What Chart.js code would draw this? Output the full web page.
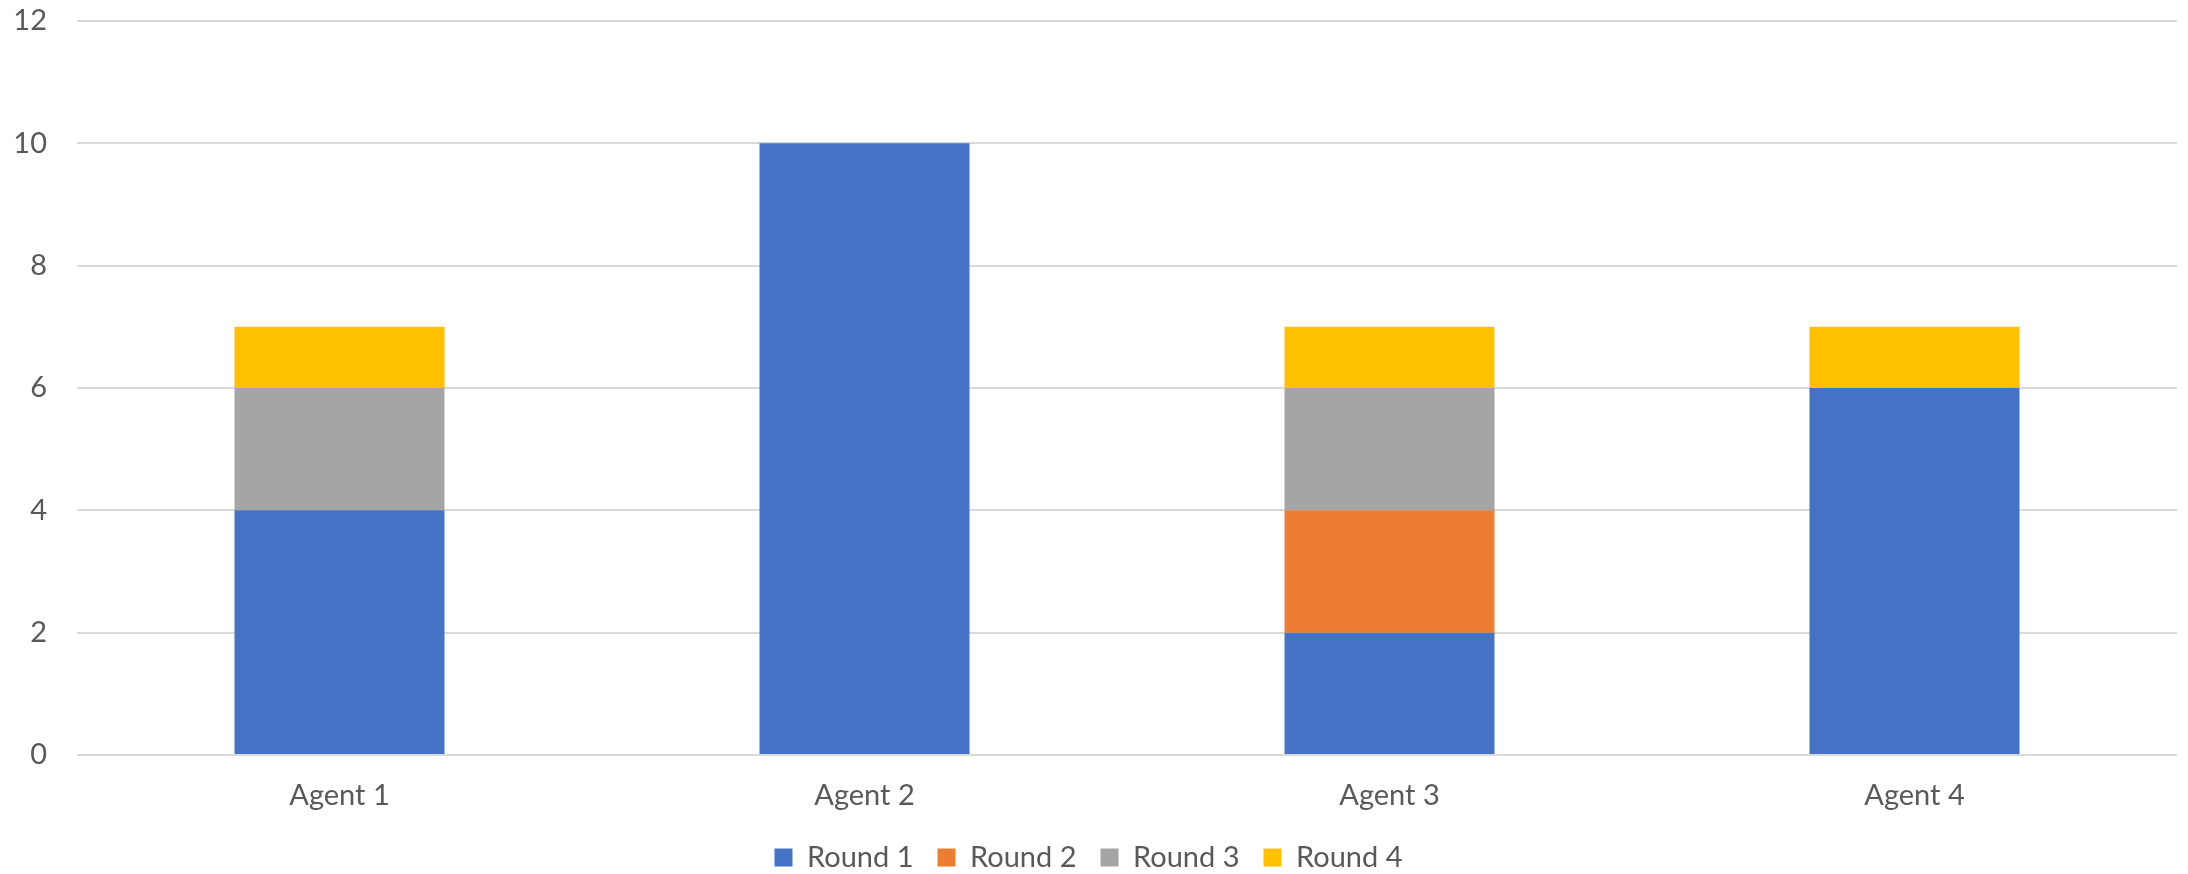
<!DOCTYPE html>
<html>
<head>
<meta charset="utf-8">
<script src="https://cdn.jsdelivr.net/npm/chart.js@4"></script>
<style>
  html, body { margin: 0; padding: 0; background: #fff; }
  #wrap { width: 2188px; height: 874px; position: relative; }
</style>
</head>
<body>
<div id="wrap"><canvas id="myChart"></canvas></div>
<script>
'use strict';

let agents = ['Agent 1', 'Agent 2', 'Agent 3', 'Agent 4'];
let round1 = [4, 10, 2, 6];
let round2 = [0, 0, 2, 0];
let round3 = [2, 0, 2, 0];
let round4 = [1, 0, 1, 1];
let yTicks = [0, 2, 4, 6, 8, 10, 12];

let textColor = '#595959';
let gridColor = '#d9d9d9';
let legendPad = 24;

function makeSet(label, data, color) {
  return {
    label: label,
    data: data,
    backgroundColor: color,
    borderWidth: 0,
    categoryPercentage: 0.4,
    barPercentage: 1,
  };
}

const chartData = {
  labels: agents,
  datasets: [
    makeSet('Round 1', round1, '#4472C4'),
    makeSet('Round 2', round2, '#ED7D31'),
    makeSet('Round 3', round3, '#A5A5A5'),
    makeSet('Round 4', round4, '#FFC000'),
  ],
};

const config = {
  type: 'bar',
  data: chartData,
  options: {
    responsive: true,
    maintainAspectRatio: false,
    animation: false,
    layout: {
      padding: { top: 21, right: 11, left: 0, bottom: -8 },
    },
    plugins: {
      tooltip: { enabled: false },
      legend: {
        position: 'bottom',
        labels: {
          boxWidth: 18,
          boxHeight: 18,
          padding: legendPad,
          color: textColor,
          font: { family: 'Lato', size: 29 },
        },
      },
    },
    scales: {
      x: {
        stacked: true,
        // keep the axis box short so the legend sits where it should
        afterFit: function (scale) {
          scale.height = 88 - legendPad;
        },
        grid: { display: false, drawTicks: false },
        border: { display: false },
        ticks: {
          color: textColor,
          padding: 23,
          font: { family: 'Lato', size: 29 },
        },
      },
      y: {
        stacked: true,
        min: yTicks[0],
        max: yTicks[yTicks.length - 1],
        afterFit: function (scale) {
          scale.width = 77;
          scale.paddingTop = 0;
          scale.paddingBottom = 0;
        },
        afterBuildTicks: function (scale) {
          scale.ticks = yTicks.map(function (v) { return { value: v }; });
        },
        grid: { color: gridColor, lineWidth: 2, drawTicks: false },
        border: { display: false },
        ticks: {
          color: textColor,
          padding: 30,
          font: { family: 'Lato', size: 29 },
        },
      },
    },
  },
};

let chartCanvas = document.getElementById('myChart').getContext('2d');
const myChart = new Chart(chartCanvas, config);
</script>
</body>
</html>
